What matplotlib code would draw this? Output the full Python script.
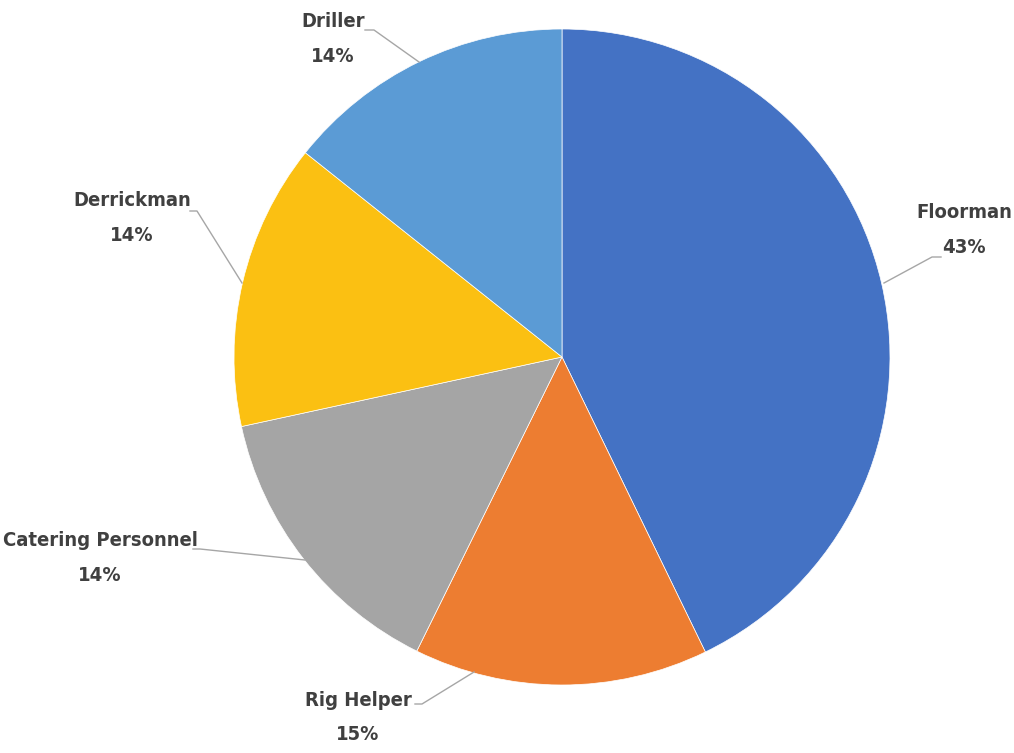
import numpy as np
import matplotlib
matplotlib.use("Agg")
import matplotlib.pyplot as plt
from matplotlib import font_manager

# data
categories = ["Floorman", "Rig Helper", "Catering Personnel", "Derrickman", "Driller"]
shares = [42.8, 14.5, 14.3, 14.1, 14.3]
pct_labels = ["43%", "15%", "14%", "14%", "14%"]
colors = ["#4472C4", "#ED7D31", "#A5A5A5", "#FBC012", "#5B9BD5"]

# layout (pixel positions in the 1014x753 picture)
CX, CY, R = 562, 357, 328
name_pos = [(964, 212), (358, 700), (100, 540), (132, 200), (333, 21)]
pct_gap = 35
leader_pts = [[(884, 283), (932, 257), (941, 257)],
              [(474, 672), (422, 704), (415, 704)],
              [(305, 560), (200, 549), (193, 549)],
              [(242, 283), (197, 211), (190, 211)],
              [(419, 62), (374, 30), (365, 30)]]

# look for a condensed bold face
fprops = None
for f in font_manager.fontManager.ttflist:
    if ("Condensed" in f.name or "Narrow" in f.name or f.stretch == "condensed") \
            and "Mono" not in f.name and f.weight in ("bold", 700, "semibold", 600):
        fprops = font_manager.FontProperties(fname=f.fname)
        break
if fprops is None:
    fprops = font_manager.FontProperties(family="DejaVu Sans", weight="bold")

def px(x, y):
    return (x - CX) / R, (CY - y) / R

fig = plt.figure(figsize=(10.14, 7.53), dpi=100)
ax = fig.add_axes([0, 0, 1, 1])

wedges, _ = ax.pie(shares, colors=colors, startangle=90, counterclock=False,
                   radius=1, center=(0, 0),
                   wedgeprops=dict(edgecolor="white", linewidth=0.5))

for name, pct, (nx, ny), pts in zip(categories, pct_labels, name_pos, leader_pts):
    xs = [px(*p)[0] for p in pts]
    ys = [px(*p)[1] for p in pts]
    ax.plot(xs, ys, color="#A6A6A6", lw=1)
    ax.text(*px(nx, ny), name, ha="center", va="center",
            fontproperties=fprops, fontsize=14.5, color="#404040")
    ax.text(*px(nx, ny + pct_gap), pct, ha="center", va="center",
            fontproperties=fprops, fontsize=14.5, color="#404040")

ax.set_xlim(px(0, 0)[0], px(1014, 0)[0])
ax.set_ylim(px(0, 753)[1], px(0, 0)[1])
ax.set_aspect("equal")
ax.axis("off")

plt.savefig("out.png", dpi=100)
